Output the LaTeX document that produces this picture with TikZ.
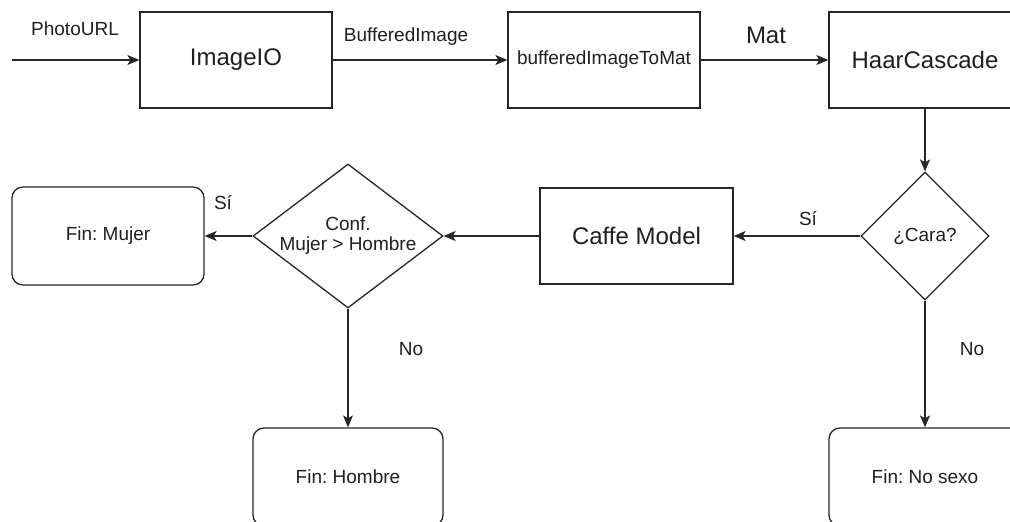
\documentclass[tikz,border=0pt]{standalone}
\usepackage{fontspec}
\setmainfont{Liberation Sans}
\usetikzlibrary{shapes.geometric,arrows.meta}
\frenchspacing

\begin{document}
\begin{tikzpicture}[x=1pt,y=-1pt,
  base/.style={draw=black!85, line width=1.3pt, text=black!88,
    font=\fontsize{19}{21}\selectfont, inner sep=0pt, align=center},
  procbox/.style={base, rectangle, minimum width=192pt, minimum height=96pt},
  bigtext/.style={font=\fontsize{24}{28}\selectfont},
  endbox/.style={base, rectangle, rounded corners=11pt,
    minimum width=192pt, minimum height=98pt},
  decide/.style={base, diamond},
  flow/.style={draw=black!85, line width=1.3pt,
    -{Stealth[length=12pt, width=10pt, inset=3pt]}},
  lbl/.style={font=\fontsize{19}{21}\selectfont, text=black!88, inner sep=0pt},
  inlbl/.style={font=\fontsize{19}{21}\selectfont, text=black!88, inner sep=0pt, align=center}
]
\useasboundingbox (0,0) rectangle (1010,522);
\clip (0,0) rectangle (1010,522);

% processing chain
\coordinate (start) at (12,60);
\node[procbox,bigtext] (imageio) at (236,60) {ImageIO};
\node[procbox] (b2m) at (604,60) {bufferedImageToMat};
\node[procbox,bigtext] (haar) at (925,60) {HaarCascade};

% decisions and model
\node[decide, minimum width=128pt, minimum height=128pt] (cara) at (925,236) {¿Cara?};
\node[procbox,bigtext, minimum width=193pt] (caffe) at (636.5,236) {Caffe Model};
\node[decide, minimum width=190pt, minimum height=144pt,
  label={[inlbl]center:{Conf.\\[-1pt]Mujer > Hombre}}] (conf) at (348,236) {};

% outcomes
\node[endbox] (mujer) at (108,236) {Fin: Mujer};
\node[endbox, minimum width=190pt] (hombre) at (348,477) {Fin: Hombre};
\node[endbox] (nosexo) at (925,477) {Fin: No sexo};

% connectors
\draw[flow] (start) -- (imageio);
\draw[flow] (imageio) -- (b2m);
\draw[flow] (b2m) -- (haar);
\draw[flow] (haar) -- (cara);
\draw[flow] (cara) -- (caffe);
\draw[flow] (caffe) -- (conf);
\draw[flow] (conf) -- (mujer);
\draw[flow] (conf) -- (hombre);
\draw[flow] (cara) -- (nosexo);

% connector labels
\node[lbl] (lphoto) at (75,29) {PhotoURL};
\node[lbl] (lbuf) at (406,37) {BufferedImage};
\node[lbl, font=\fontsize{24}{28}\selectfont] (lmat) at (766,35) {Mat};
\node[lbl] (lsi1) at (223,203) {Sí};
\node[lbl] (lsi2) at (808,219) {Sí};
\node[lbl] (lno1) at (411,349) {No};
\node[lbl] (lno2) at (972,349) {No};
\end{tikzpicture}
\end{document}
